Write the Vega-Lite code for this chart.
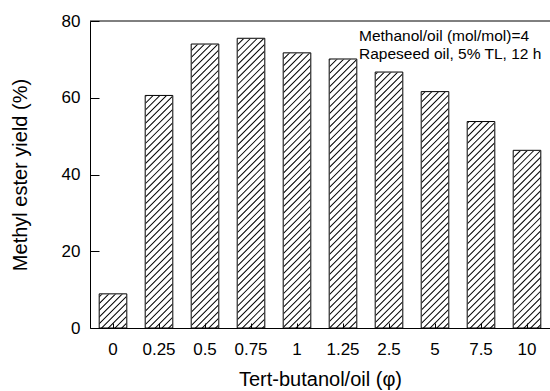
{
  "$schema": "https://vega.github.io/schema/vega-lite/v6.json",
  "width": 460,
  "height": 307,
  "autosize": {"type": "none"},
  "padding": {"left": 90, "top": 21, "right": 0, "bottom": 63},
  "background": "white",
  "config": {
    "font": "Liberation Sans",
    "view": {"stroke": null},
    "axis": {"grid": false, "domainColor": "black", "tickColor": "black", "labelColor": "black", "titleColor": "black", "titleFontWeight": "normal", "labelFont": "Liberation Sans", "titleFont": "Liberation Sans"}
  },
  "data": {
    "values": [
      {"ratio": "0", "yield": 8.9},
      {"ratio": "0.25", "yield": 60.6},
      {"ratio": "0.5", "yield": 74.0},
      {"ratio": "0.75", "yield": 75.5},
      {"ratio": "1", "yield": 71.7},
      {"ratio": "1.25", "yield": 70.1},
      {"ratio": "2.5", "yield": 66.7},
      {"ratio": "5", "yield": 61.6},
      {"ratio": "7.5", "yield": 53.8},
      {"ratio": "10", "yield": 46.3}
    ]
  },
  "layer": [
    {
      "data": {"values": [{}]},
      "mark": {"type": "rule", "clip": true, "stroke": "black", "strokeWidth": 800, "strokeDash": [1, 3.74]},
      "encoding": {
        "x": {"datum": "0", "type": "nominal", "scale": {"domain": ["0", "0.25", "0.5", "0.75", "1", "1.25", "2.5", "5", "7.5", "10"], "paddingInner": 0, "paddingOuter": 0}},
        "x2": {"datum": "10"},
        "y": {"datum": 80, "type": "quantitative", "scale": {"domain": [0, 80], "nice": false}},
        "y2": {"datum": -27.9}
      }
    },
    {
      "mark": {"type": "bar", "fill": "white", "stroke": "white", "strokeWidth": 1, "clip": true},
      "encoding": {
        "x": {"field": "ratio", "type": "nominal", "scale": {"domain": ["0", "0.25", "0.5", "0.75", "1", "1.25", "2.5", "5", "7.5", "10"], "paddingInner": 0, "paddingOuter": 0}},
        "y": {"field": "yield", "type": "quantitative", "scale": {"domain": [0, 80], "nice": false}},
        "y2": {"datum": 80}
      }
    },
    {
      "mark": {"type": "bar", "fill": "white", "width": 19, "xOffset": 23, "clip": true},
      "encoding": {
        "x": {"field": "ratio", "type": "nominal", "scale": {"domain": ["0", "0.25", "0.5", "0.75", "1", "1.25", "2.5", "5", "7.5", "10"], "paddingInner": 0, "paddingOuter": 0}},
        "y": {"datum": 0, "type": "quantitative", "scale": {"domain": [0, 80], "nice": false}},
        "y2": {"datum": 80}
      }
    },
    {
      "mark": {"type": "bar", "fill": "white", "width": 19, "xOffset": -23, "clip": true},
      "encoding": {
        "x": {"field": "ratio", "type": "nominal", "scale": {"domain": ["0", "0.25", "0.5", "0.75", "1", "1.25", "2.5", "5", "7.5", "10"], "paddingInner": 0, "paddingOuter": 0}},
        "y": {"datum": 0, "type": "quantitative", "scale": {"domain": [0, 80], "nice": false}},
        "y2": {"datum": 80}
      }
    },
    {
      "mark": {"type": "bar", "width": {"band": 0.6}, "fill": "white", "fillOpacity": 0, "stroke": "black", "strokeWidth": 1},
      "encoding": {
        "x": {
          "field": "ratio", "type": "nominal",
          "scale": {"domain": ["0", "0.25", "0.5", "0.75", "1", "1.25", "2.5", "5", "7.5", "10"], "paddingInner": 0, "paddingOuter": 0},
          "axis": {"zindex": 1, "title": "Tert-butanol/oil (φ)", "labelAngle": 0, "labelAlign": "center", "labelBaseline": "top", "tickSize": -5, "labelPadding": 18.7, "titlePadding": 12, "labelFontSize": 17, "titleFontSize": 20}
        },
        "y": {
          "field": "yield", "type": "quantitative",
          "scale": {"domain": [0, 80], "nice": false},
          "axis": {
            "zindex": 1,
            "title": "Methyl ester yield (%)",
            "values": [0, 10, 20, 30, 40, 50, 60, 70, 80],
            "labelExpr": "datum.value % 20 === 0 ? datum.label : ''",
            "tickSize": {"condition": {"test": "datum.value % 20 === 0", "value": -9}, "value": -5},
            "labelPadding": 19,
            "titlePadding": 31,
            "labelFontSize": 17,
            "titleFontSize": 20
          }
        }
      }
    },
    {
      "data": {"values": [{}]},
      "mark": {"type": "rule", "stroke": "black", "strokeWidth": 1},
      "encoding": {
        "y": {"datum": 80, "type": "quantitative", "scale": {"domain": [0, 80], "nice": false}}
      }
    },
    {
      "data": {"values": [{}]},
      "mark": {"type": "text", "align": "left", "baseline": "alphabetic", "fontSize": 15.5, "lineHeight": 18, "dx": 16, "dy": 20, "color": "black", "text": ["Methanol/oil (mol/mol)=4", "Rapeseed oil, 5% TL, 12 h"]},
      "encoding": {
        "x": {"datum": "1.25", "type": "nominal", "scale": {"domain": ["0", "0.25", "0.5", "0.75", "1", "1.25", "2.5", "5", "7.5", "10"], "paddingInner": 0, "paddingOuter": 0}},
        "y": {"datum": 80, "type": "quantitative", "scale": {"domain": [0, 80], "nice": false}}
      }
    }
  ]
}
